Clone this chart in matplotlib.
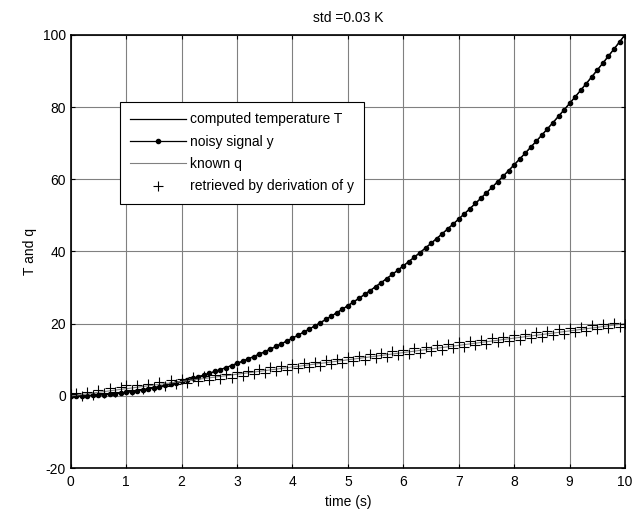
import numpy as np
import matplotlib.pyplot as plt

plt.rcParams['font.family'] = ['Liberation Sans', 'DejaVu Sans']
plt.rcParams['axes.unicode_minus'] = False

# time samples (0 .. 10 s, step 0.1)
t = np.round(np.arange(101) * 0.1, 1)

# computed temperature T
T_vals = [0, 0.01, 0.04, 0.09, 0.16, 0.25, 0.36, 0.49, 0.64, 0.81, 1.0, 1.21, 1.44, 1.69, 1.96,
          2.25, 2.56, 2.89, 3.24, 3.61, 4.0, 4.41, 4.84, 5.29, 5.76, 6.25, 6.76, 7.29, 7.84, 8.41,
          9.0, 9.61, 10.24, 10.89, 11.56, 12.25, 12.96, 13.69, 14.44, 15.21, 16.0, 16.81, 17.64,
          18.49, 19.36, 20.25, 21.16, 22.09, 23.04, 24.01, 25.0, 26.01, 27.04, 28.09, 29.16, 30.25,
          31.36, 32.49, 33.64, 34.81, 36.0, 37.21, 38.44, 39.69, 40.96, 42.25, 43.56, 44.89, 46.24,
          47.61, 49.0, 50.41, 51.84, 53.29, 54.76, 56.25, 57.76, 59.29, 60.84, 62.41, 64.0, 65.61,
          67.24, 68.89, 70.56, 72.25, 73.96, 75.69, 77.44, 79.21, 81.0, 82.81, 84.64, 86.49, 88.36,
          90.25, 92.16, 94.09, 96.04, 98.01, 100.0]
# noisy signal y (std 0.03 K, not visible at this scale)
y_vals = list(T_vals)

# known q (straight line)
q_t = [0, 10]
q_vals = [0, 20]

# retrieved q by derivation of y
r_vals = [0.5, 0.8, 0.1, 1.2, 0.3, 1.6, 0.7, 2.1, 1.0, 2.6, 3.1, 1.6, 2.9, 2.0, 3.4, 2.4, 3.9,
          2.8, 4.3, 3.2, 4.6, 3.5, 5.1, 4.0, 5.6, 4.3, 5.9, 4.8, 6.2, 5.0, 6.6, 5.6, 7.0, 6.0,
          7.5, 6.4, 8.0, 6.8, 8.3, 7.2, 8.7, 7.6, 9.2, 8.1, 9.5, 8.4, 10.0, 8.9, 10.3, 9.2, 10.8,
          9.6, 11.1, 10.0, 11.7, 10.4, 12.0, 10.8, 12.4, 11.2, 12.8, 11.6, 13.2, 12.0, 13.5, 12.4,
          14.0, 12.8, 14.4, 13.2, 14.8, 13.6, 15.2, 14.0, 15.6, 14.4, 16.0, 14.8, 16.4, 15.2, 16.8,
          15.6, 17.2, 16.0, 17.6, 16.4, 18.0, 16.8, 18.4, 17.2, 18.8, 17.6, 19.2, 18.0, 19.6, 18.4,
          20.0, 18.8, 20.3, 19.2, 19.8]

fig = plt.figure(figsize=(6.32, 5.19), dpi=100)
ax = fig.add_axes([0.112, 0.098, 0.877, 0.835])

ax.plot(t, T_vals, color='black', lw=0.9, label='computed temperature T')
ax.plot(t, y_vals, color='black', lw=0.9, marker='o', ms=3, label='noisy signal y')
ax.plot(q_t, q_vals, color='#808080', lw=0.8, label='known q')
ax.plot(t, r_vals, ls='none', color='black', marker='+', ms=7, mew=0.8,
        label='retrieved by derivation of y')

ax.set_xlim(0, 10)
ax.set_ylim(-20, 100)
ax.set_xticks(range(0, 11))
ax.set_yticks(range(-20, 101, 20))
ax.grid(True, color='#808080', lw=0.8)
ax.tick_params(direction='in', top=True, right=True, labelsize=10, length=3)
ax.tick_params(axis='x', pad=5)
for s in ax.spines.values():
    s.set_linewidth(1.2)

ax.set_xlabel('time (s)', fontsize=10)
ax.set_ylabel('T and q', fontsize=10)
ax.set_title('std =0.03 K', fontsize=10, pad=9)

leg = ax.legend(loc='upper left', bbox_to_anchor=(0.088, 0.845), fontsize=10, fancybox=False,
                framealpha=1, edgecolor='black', borderaxespad=0, handlelength=4,
                handletextpad=0.3, labelspacing=0.6, borderpad=0.75)
leg.get_frame().set_linewidth(0.8)

fig.savefig('out.png', dpi=100)
